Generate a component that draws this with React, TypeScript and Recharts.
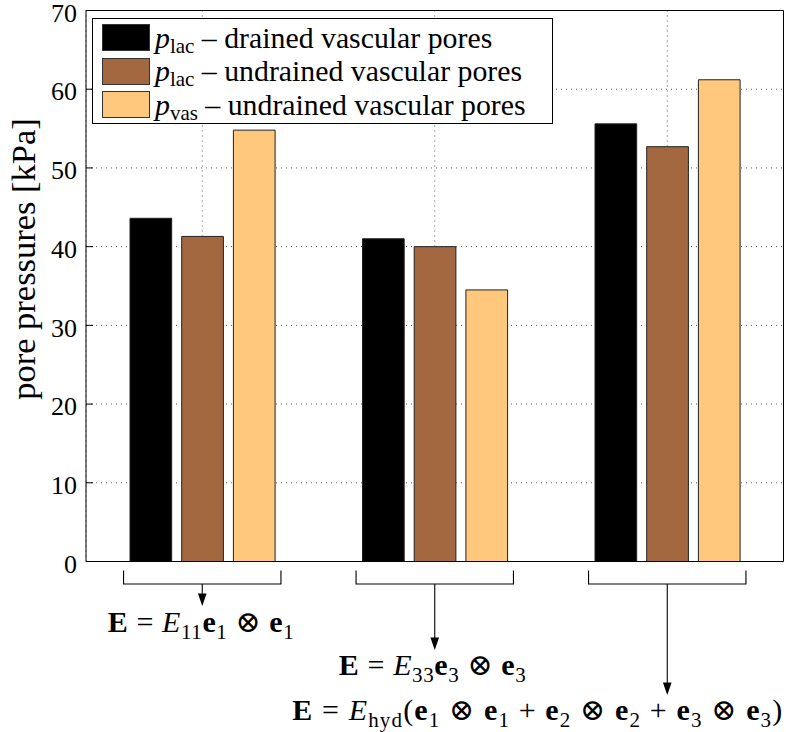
import React from 'react';
import { BarChart, Bar, XAxis, YAxis, CartesianGrid, Legend } from 'recharts';

// ---- data ----
const loadCases = ['E11', 'E33', 'Ehyd'];
const placDrained = [43.6, 41.0, 55.6];
const placUndrained = [41.3, 40.0, 52.7];
const pvasUndrained = [54.8, 34.5, 61.2];
const yTicks = [0, 10, 20, 30, 40, 50, 60, 70];

const seriesKeys = ['placDrained', 'placUndrained', 'pvasUndrained'];
const seriesSub = ['lac', 'lac', 'vas'];
const seriesDesc = ['drained vascular pores', 'undrained vascular pores', 'undrained vascular pores'];
const seriesColors = ['#000000', '#a3683f', '#ffc87c'];

type Seg = { t: string; b?: boolean; i?: boolean; s?: boolean };
const formulaE11: Seg[] = [
  { t: 'E', b: true }, { t: ' = ' }, { t: 'E', i: true }, { t: '11', s: true },
  { t: 'e', b: true }, { t: '1', s: true }, { t: ' ⊗ ' }, { t: 'e', b: true }, { t: '1', s: true },
];
const formulaE33: Seg[] = [
  { t: 'E', b: true }, { t: ' = ' }, { t: 'E', i: true }, { t: '33', s: true },
  { t: 'e', b: true }, { t: '3', s: true }, { t: ' ⊗ ' }, { t: 'e', b: true }, { t: '3', s: true },
];
const formulaEhyd: Seg[] = [
  { t: 'E', b: true }, { t: ' = ' }, { t: 'E', i: true }, { t: 'hyd', s: true }, { t: '(' },
  { t: 'e', b: true }, { t: '1', s: true }, { t: ' ⊗ ' }, { t: 'e', b: true }, { t: '1', s: true }, { t: ' + ' },
  { t: 'e', b: true }, { t: '2', s: true }, { t: ' ⊗ ' }, { t: 'e', b: true }, { t: '2', s: true }, { t: ' + ' },
  { t: 'e', b: true }, { t: '3', s: true }, { t: ' ⊗ ' }, { t: 'e', b: true }, { t: '3', s: true }, { t: ')' },
];
const formulas: Seg[][] = [formulaE11, formulaE33, formulaEhyd];

const data = loadCases.map((c, i) => ({
  case: c,
  placDrained: placDrained[i],
  placUndrained: placUndrained[i],
  pvasUndrained: pvasUndrained[i],
}));

const FONT = '"Liberation Serif", "DejaVu Serif", serif';

// annotation layout per load case (relative to the tick)
const arrowTip = [44.5, 88.5, 133.5];
const textBase = [70.5, 113.5, 158.5];
const textAnchorMode = ['middle', 'middle', 'end'];
const textShift = [-1.5, -2.5, 115];
const textWidth = [186, 187, 490];

function renderSegs(segs: Seg[], fontSize: number) {
  let shift = 0;
  const subShift = fontSize * 0.22;
  return segs.map((sg, k) => {
    const want = sg.s ? subShift : 0;
    const dy = want - shift;
    shift = want;
    return (
      <tspan
        key={k}
        dy={dy}
        fontWeight={sg.b ? 'bold' : 'normal'}
        fontStyle={sg.i ? 'italic' : 'normal'}
        fontSize={sg.s ? fontSize * 0.7 : fontSize}
      >
        {sg.t}
      </tspan>
    );
  });
}

function CaseTick(props: any) {
  const { x, y, payload } = props;
  const idx = loadCases.indexOf(payload.value);
  const half = 78.7;
  const tip = y + arrowTip[idx];
  return (
    <g>
      <path
        d={`M${x - half},${y + 9} V${y + 22.5} H${x + half} V${y + 9}`}
        fill="none"
        stroke="#000"
        strokeWidth={1.1}
      />
      <line x1={x} y1={y + 22.5} x2={x} y2={tip - 11} stroke="#000" strokeWidth={1.1} />
      <path d={`M${x - 4.3},${tip - 12.5} L${x + 4.3},${tip - 12.5} L${x},${tip} Z`} fill="#000" />
      <text
        x={x + textShift[idx]}
        y={y + textBase[idx]}
        textAnchor={textAnchorMode[idx] as any}
        textLength={textWidth[idx]}
        lengthAdjust="spacing"
        fontFamily={FONT}
        fill="#000"
        style={{ whiteSpace: 'pre' }}
      >
        {renderSegs(formulas[idx], 30)}
      </text>
    </g>
  );
}

function renderLegend(props: any) {
  const payload = props.payload || [];
  return (
    <div
      style={{
        width: 461,
        height: 106,
        boxSizing: 'border-box',
        border: '1px solid #000',
        background: '#fff',
        padding: '2px 0 0 9px',
        fontFamily: FONT,
        fontSize: 29.8,
        color: '#000',
        lineHeight: 1,
      }}
    >
      {payload.map((entry: any, i: number) => (
        <div key={i} style={{ display: 'flex', alignItems: 'center', height: 33.5, whiteSpace: 'nowrap' }}>
          <span
            style={{
              display: 'inline-block',
              width: 48,
              height: 27,
              background: entry.color,
              border: '1px solid #333',
              boxSizing: 'border-box',
              marginRight: 5,
              flex: 'none',
            }}
          />
          <span style={{ fontFamily: FONT }}>
            <i>p</i>
            <span style={{ fontSize: 21, position: 'relative', top: 5 }}>{seriesSub[i]}</span>
            {' – ' + seriesDesc[i]}
          </span>
        </div>
      ))}
    </div>
  );
}

function YLabel(props: any) {
  const vb = props.viewBox || { x: 0, y: 0, width: 0, height: 0 };
  const cx = 35;
  const cy = vb.y + vb.height / 2 - 27;
  return (
    <text
      x={cx}
      y={cy}
      transform={`rotate(-90, ${cx}, ${cy})`}
      textAnchor="middle"
      fontFamily={FONT}
      fontSize={34.5}
      fill="#000"
    >
      pore pressures [kPa]
    </text>
  );
}

export default function App() {
  return (
    <div style={{ position: 'absolute', left: 0, top: 0, width: 786, height: 732, background: '#fff' }}>
      <BarChart
        width={786}
        height={732}
        data={data}
        barGap={10}
        margin={{ top: 0.5, right: 0, bottom: 0.5, left: 0 }}
      >
        <CartesianGrid stroke="#555" strokeDasharray="1 4" strokeWidth={1} />
        <XAxis
          dataKey="case"
          height={170}
          interval={0}
          tickSize={0}
          tickMargin={0}
          tickLine={false}
          axisLine={{ stroke: '#000', strokeWidth: 1 }}
          tick={(p: any) => <CaseTick {...p} />}
        />
        <XAxis
          xAxisId="top"
          dataKey="case"
          orientation="top"
          height={10}
          interval={0}
          tick={false}
          tickSize={-7}
          axisLine={{ stroke: '#000', strokeWidth: 1 }}
          tickLine={{ stroke: '#000', strokeWidth: 1 }}
        />
        <YAxis
          domain={[0, 70]}
          ticks={yTicks}
          interval={0}
          width={86}
          tickSize={-7}
          tickMargin={16}
          axisLine={{ stroke: '#000', strokeWidth: 1 }}
          tickLine={{ stroke: '#000', strokeWidth: 1 }}
          tick={{ fontSize: 26, fontFamily: FONT, fill: '#000', dy: 2 }}
          label={{ content: (p: any) => <YLabel {...p} /> }}
        />
        <YAxis
          yAxisId="right"
          orientation="right"
          domain={[0, 70]}
          ticks={yTicks}
          interval={0}
          width={2.5}
          tick={false}
          tickSize={-7}
          axisLine={{ stroke: '#000', strokeWidth: 1 }}
          tickLine={{ stroke: '#000', strokeWidth: 1 }}
        />
        <Legend
          layout="vertical"
          align="center"
          verticalAlign="middle"
          content={renderLegend}
          wrapperStyle={{ left: 92, top: 18, width: 'auto', height: 'auto' }}
        />
        {seriesKeys.map((k, i) => (
          <Bar
            key={k}
            dataKey={k}
            name={`p${seriesSub[i]} – ${seriesDesc[i]}`}
            fill={seriesColors[i]}
            stroke="#222"
            strokeWidth={1}
            barSize={41.7}
            isAnimationActive={false}
          />
        ))}
      </BarChart>
    </div>
  );
}
